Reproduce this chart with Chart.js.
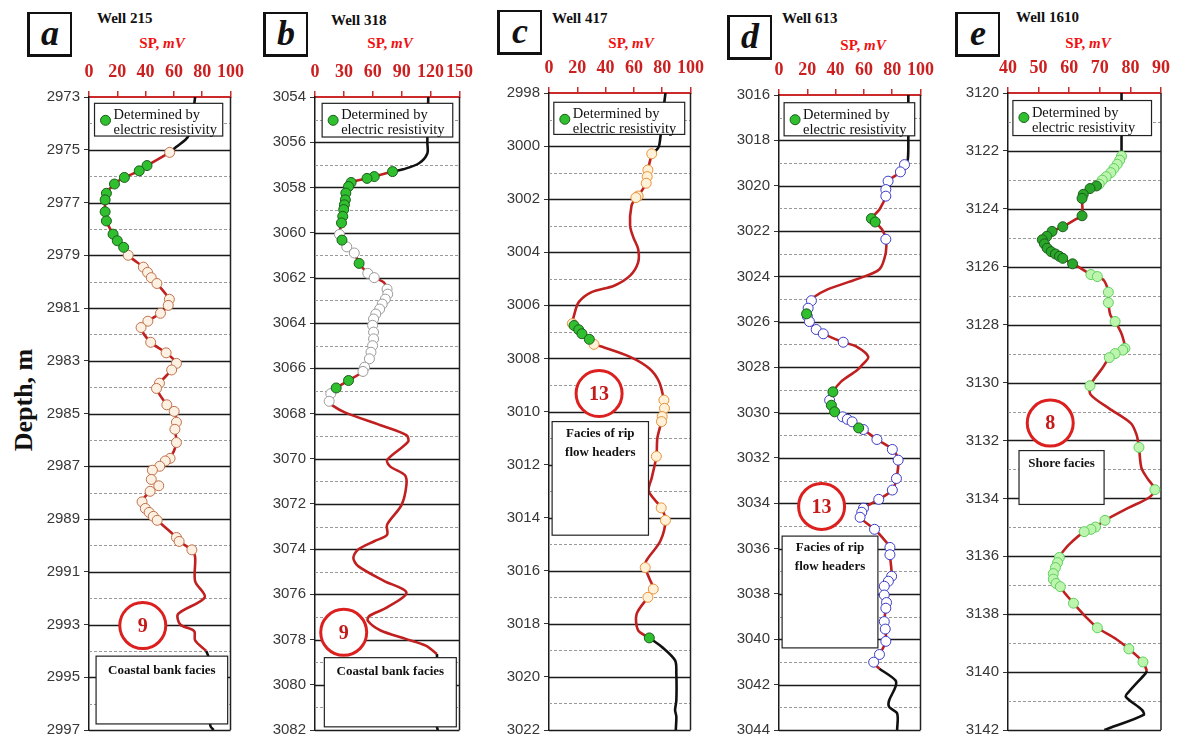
<!DOCTYPE html>
<html>
<head>
<meta charset="utf-8">
<script src="https://cdn.jsdelivr.net/npm/chart.js@4.4.1/dist/chart.umd.min.js"></script>
<style>
  body { margin: 0; background: #fff; width: 1179px; height: 742px; position: relative; overflow: hidden; font-family: "Liberation Serif", "Times New Roman", serif; }
  canvas { position: absolute; }
  .letter { position: absolute; width: 40px; height: 40px; border: 2px solid #111; border-left-width: 3px; border-bottom-width: 3px; font: italic bold 36px "Liberation Serif", serif; text-align: center; line-height: 38px; color: #111; }
  .well { position: absolute; font: bold 15px "Liberation Serif", serif; line-height: 18px; color: #111; white-space: nowrap; }
  .sp { position: absolute; font: bold 15px "Liberation Serif", serif; line-height: 18px; color: #f01010; transform: translateX(-50%); white-space: nowrap; }
  .depth { position: absolute; left: 24px; top: 400px; font: bold 26px "Liberation Serif", serif; white-space: nowrap; transform: translate(-50%, -50%) rotate(-90deg); color: #111; }
</style>
</head>
<body>
<div class="depth">Depth, m</div>
<script>
// ---- Well 215 (a) : [depth, SP]
const wellA_top = [[2973, 75], [2973.8, 73], [2974.5, 70], [2974.89, 61.8], [2975.1, 57]];
const wellA_curve = [[2990.45, 75], [2991.36, 75], [2991.97, 81.8], [2992.6, 63], [2993.0, 64.5], [2993.25, 74.3], [2993.6, 75], [2994.0, 82.8]];
const wellA_bottom = [[2994.0, 82.8], [2994.25, 84.5], [2996.83, 85.7], [2997, 88]];
const wellA_green = [[2975.6, 41], [2975.8, 35.5], [2976.05, 25], [2976.3, 18], [2976.65, 12.3], [2976.9, 11.4], [2977.35, 11.4], [2977.7, 12.3], [2978.2, 17], [2978.45, 20], [2978.7, 24.5]];
const wellA_open = [[2975.1, 57], [2979.0, 27.7], [2979.45, 38.4], [2979.65, 41.4], [2979.85, 44], [2980.07, 48], [2980.67, 56.8], [2980.9, 56], [2981.2, 50.5], [2981.5, 41.6], [2981.74, 36.8], [2982.3, 43.6], [2982.7, 54.5], [2983.1, 61.8], [2983.35, 58.4], [2983.85, 49.8], [2984.05, 47.7], [2984.67, 55], [2984.92, 60.2], [2985.33, 61.8], [2985.6, 60.7], [2986.1, 61.8], [2986.7, 57.3], [2986.8, 53.9], [2987.0, 50], [2987.15, 44.8], [2987.5, 44], [2987.74, 49.3], [2987.95, 43.2], [2988.35, 37.5], [2988.6, 39.8], [2988.75, 42.5], [2988.9, 45.5], [2989.05, 48.2], [2989.7, 61.8], [2989.85, 63.7], [2990.17, 72.7]];

// ---- Well 318 (b)
const wellB_top = [[3054, 117.6], [3055, 117], [3056, 116.6], [3056.5, 116.6], [3056.93, 108], [3057.2, 91.5], [3057.3, 80.5]];
const wellB_curve = [[3062.2, 71.5], [3067.64, 18], [3067.96, 31.5], [3068.52, 68.1], [3068.96, 94.9], [3069.25, 96.6], [3070.06, 74.8], [3070.35, 78.2], [3070.72, 93.2], [3071.16, 94.9], [3072.04, 89.9], [3072.92, 74.8], [3073.36, 74.8], [3073.65, 61.5], [3074.02, 44.8], [3074.38, 39.8], [3074.75, 44.8], [3075.4, 71.5], [3075.92, 94.9], [3076.58, 74.8], [3076.95, 56.5], [3077.17, 54.8], [3077.6, 68.1], [3077.98, 94.9], [3078.27, 115], [3078.64, 126.6]];
const wellB_bottom = [[3078.64, 126.6], [3079.5, 127], [3081.86, 126.6], [3082, 127.5]];
const wellB_green = [[3057.3, 80.5], [3057.52, 61.5], [3057.6, 54], [3057.78, 37.5], [3057.96, 34.8], [3058.25, 32], [3058.55, 31.5], [3058.77, 30.5], [3058.98, 29.8], [3059.28, 28.8], [3059.57, 27.5], [3060.33, 28], [3061.36, 45.8], [3066.54, 34.8], [3066.87, 22]];
const wellB_open = [[3060.08, 25.4], [3060.63, 33], [3060.9, 40.8], [3061.8, 54.8], [3061.99, 61.5], [3062.5, 74.8], [3062.72, 75.5], [3062.94, 73], [3063.16, 69.8], [3063.38, 67.1], [3063.6, 63.1], [3063.82, 60.8], [3064.1, 59.8], [3064.4, 60.8], [3064.7, 60.8], [3065.0, 59.8], [3065.29, 58.1], [3065.58, 56.5], [3065.95, 51.5], [3066.14, 49.8], [3067.12, 16.4], [3067.46, 14.7]];

// ---- Well 417 (c)
const wellC_top = [[2998, 82.3], [2999, 80], [3000, 77.8], [3000.2, 75], [3000.29, 72.6]];
const wellC_curve = [[3002.25, 58.3], [3003.0, 57.3], [3003.44, 59.6], [3003.88, 63], [3004.38, 63], [3004.88, 57.3], [3005.26, 46], [3005.5, 30.1], [3005.88, 21], [3006.38, 17.7], [3007.57, 38.1], [3007.94, 57.3], [3008.38, 70.9], [3008.88, 77.8], [3011.0, 76.6], [3012.5, 72.6], [3013.0, 70.5], [3014.88, 78.7], [3015.63, 68.7], [3016.3, 71], [3017.63, 61.9], [3018.25, 63]];
const wellC_bottom = [[3018.53, 70.9], [3018.88, 80], [3019.38, 89.1], [3019.88, 90], [3020.88, 90], [3021.25, 89.1], [3021.5, 90], [3022, 89.6]];
const wellC_green = [[3006.76, 17.7], [3006.92, 21], [3007.07, 23.3], [3007.28, 28.5], [3018.53, 70.9]];
const wellC_open = [[3000.29, 72.6], [3000.9, 69.9], [3001.15, 69.4], [3001.4, 68.7], [3001.88, 63], [3001.94, 61.4], [3006.69, 16.5], [3007.47, 31.8], [3009.57, 81.2], [3009.88, 81.6], [3010.19, 80], [3010.38, 79.5], [3011.69, 75.9], [3013.63, 79.3], [3014.1, 82.3], [3015.88, 68], [3016.69, 73.7], [3017.0, 69.9]];

// ---- Well 613 (d)
const wellD_top = [[3016, 91.4], [3017, 91.4], [3017.83, 91.4], [3018.85, 91], [3019.07, 88.7]];
const wellD_curve = [[3021.05, 71], [3021.95, 73], [3022.95, 75.5], [3023.68, 71], [3024.12, 55.1], [3024.56, 34.7], [3024.92, 24.5], [3027.11, 55.1], [3027.55, 63.1], [3027.92, 58.5], [3028.14, 55.1], [3028.65, 43.7], [3035.53, 73.3], [3041.3, 71]];
const wellD_bottom = [[3041.3, 71], [3041.81, 82.3], [3042.1, 82.3], [3042.7, 77.8], [3042.98, 77.8], [3043.27, 83.5], [3044, 83.5]];
const wellD_green = [[3021.45, 65.3], [3021.6, 68], [3025.65, 19.5], [3029.09, 38.1], [3029.68, 37], [3029.97, 39.3], [3030.68, 56.3]];
const wellD_open = [[3019.07, 88.7], [3019.39, 85.8], [3019.8, 77.1], [3020.17, 75.5], [3020.46, 75.5], [3022.36, 75.5], [3025.07, 22.9], [3025.4, 20.6], [3025.75, 20], [3025.99, 21.5], [3026.34, 26.3], [3026.53, 31.3], [3026.9, 45.4], [3029.46, 35.8], [3030.19, 44.9], [3030.3, 48.3], [3030.41, 51.7], [3030.75, 59.6], [3031.19, 69.2], [3031.63, 80.1], [3032.1, 84.2], [3032.91, 83], [3033.42, 80.1], [3033.83, 70.5], [3034.22, 59.7], [3034.4, 58.5], [3034.62, 57.3], [3035.15, 67.5], [3035.95, 78.4], [3036.27, 78.4], [3037.22, 79.6], [3037.44, 77.3], [3037.66, 74.4], [3038.05, 74.4], [3038.38, 76], [3038.63, 75.5], [3039.22, 74.4], [3039.55, 75.1], [3040.09, 75.5], [3040.67, 71], [3041.01, 66.9]];

// ---- Well 1610 (e)
const wellE_top = [[3120, 77.1], [3121, 77.1], [3122.06, 77.1], [3122.18, 77.1]];
const wellE_curve = [[3124.36, 62.2], [3126.02, 63.3], [3126.48, 71.4], [3127.68, 73.5], [3128.37, 77.3], [3129.51, 70.8], [3130.43, 67.1], [3130.89, 73], [3131.4, 80.1], [3131.8, 82], [3132.95, 83.6], [3133.3, 85.5], [3133.98, 86], [3134.32, 79.5], [3135.59, 60], [3135.93, 57.3], [3137.25, 58.4], [3138.1, 65.5], [3138.85, 75.2], [3139.96, 85.4]];
const wellE_bottom = [[3139.96, 85.4], [3140.05, 84.9], [3140.68, 79.5], [3140.85, 78.5], [3141.31, 83.8], [3141.48, 84.3], [3141.94, 73], [3142, 71.5]];
const wellE_green = [[3123.21, 68.9], [3123.3, 66.8], [3123.5, 64.6], [3123.64, 64.2], [3124.24, 64.2], [3124.62, 57.9], [3124.78, 54.4], [3124.95, 52.7], [3125.07, 51.2], [3125.21, 51.9], [3125.36, 52.8], [3125.48, 54.1], [3125.56, 55.5], [3125.64, 56.8], [3125.71, 57.9], [3125.9, 61.1]];
const wellE_open = [[3122.18, 77.1], [3122.32, 76.5], [3122.46, 75.7], [3122.61, 74.6], [3122.75, 73.6], [3122.89, 72.1], [3123.01, 70.8], [3123.15, 69.8], [3126.27, 67.1], [3126.34, 69.2], [3126.88, 72.8], [3127.24, 72.8], [3127.89, 75], [3128.82, 78.2], [3128.88, 77.5], [3129.0, 75], [3129.14, 73.1], [3130.11, 66.8], [3132.24, 82.8], [3133.7, 88], [3134.76, 71.7], [3134.99, 68.6], [3135.07, 67.1], [3135.15, 64.9], [3136.04, 56.8], [3136.22, 56.2], [3136.39, 55.5], [3136.6, 54.8], [3136.79, 54.8], [3136.94, 55.7], [3137.05, 57.1], [3137.62, 61.4], [3138.47, 69.2], [3139.2, 79.5], [3139.65, 84.1]];

// ---- tick labels
const spTicksA = [0, 20, 40, 60, 80, 100];
const spTicksB = [0, 30, 60, 90, 120, 150];
const spTicksC = [0, 20, 40, 60, 80, 100];
const spTicksD = [0, 20, 40, 60, 80, 100];
const spTicksE = [40, 50, 60, 70, 80, 90];
const depthTicksA = [2973, 2975, 2977, 2979, 2981, 2983, 2985, 2987, 2989, 2991, 2993, 2995, 2997];
const depthTicksB = [3054, 3056, 3058, 3060, 3062, 3064, 3066, 3068, 3070, 3072, 3074, 3076, 3078, 3080, 3082];
const depthTicksC = [2998, 3000, 3002, 3004, 3006, 3008, 3010, 3012, 3014, 3016, 3018, 3020, 3022];
const depthTicksD = [3016, 3018, 3020, 3022, 3024, 3026, 3028, 3030, 3032, 3034, 3036, 3038, 3040, 3042, 3044];
const depthTicksE = [3120, 3122, 3124, 3126, 3128, 3130, 3132, 3134, 3136, 3138, 3140, 3142];

const RED_LINE = '#c02020';
const GREEN_FILL = '#2fbf2f';
const GREEN_EDGE = '#1b5e1b';

// layout of each panel (pixels) and notes (data coords)
const panels = [
    { letter: 'a', well: 'Well 215', letterPos: [27, 12], wellPos: [97, 9], spPos: [162, 34], area: [89, 236, 97, 733],
      spTicks: spTicksA, depthTicks: depthTicksA, top: wellA_top, curve: wellA_curve, bottom: wellA_bottom, green: wellA_green, open: wellA_open,
      openFill: '#fdf1e4', openEdge: '#c0704a', greenFill: GREEN_FILL,
      legend: [3.9, 2973.24, 94.5, 2974.48], circle: [38, 2993.04, '9'], box: [5, 2994.2, 98, 2996.77, ['Coastal bank facies'], 18] },
    { letter: 'b', well: 'Well 318', letterPos: [263, 12], wellPos: [331, 11], spPos: [390, 34], area: [315, 465, 97, 733],
      spTicks: spTicksB, depthTicks: depthTicksB, top: wellB_top, curve: wellB_curve, bottom: wellB_bottom, green: wellB_green, open: wellB_open,
      openFill: '#ffffff', openEdge: '#9a9a9a', greenFill: GREEN_FILL,
      legend: [7.4, 3054.28, 143, 3055.77], circle: [29.8, 3077.68, '9'], box: [9.7, 3078.8, 146.7, 3081.86, ['Coastal bank facies'], 17] },
    { letter: 'c', well: 'Well 417', letterPos: [497, 10], wellPos: [552, 9], spPos: [631, 34], area: [549, 696, 93, 733],
      spTicks: spTicksC, depthTicks: depthTicksC, top: wellC_top, curve: wellC_curve, bottom: wellC_bottom, green: wellC_green, open: wellC_open,
      openFill: '#fff2d8', openEdge: '#e8913a', greenFill: GREEN_FILL,
      legend: [3.4, 2998.35, 95.9, 2999.56], circle: [35.4, 3009.32, '13'], box: [2.2, 3010.38, 70.3, 3014.66, ['Facies of rip', 'flow headers'], 15] },
    { letter: 'd', well: 'Well 613', letterPos: [727, 15], wellPos: [782, 9], spPos: [863, 36], area: [779, 926, 95, 733],
      spTicks: spTicksD, depthTicks: depthTicksD, top: wellD_top, curve: wellD_curve, bottom: wellD_bottom, green: wellD_green, open: wellD_open,
      openFill: '#ffffff', openEdge: '#3b3bc8', greenFill: GREEN_FILL,
      legend: [3.6, 3016.34, 95.9, 3017.8], circle: [30.1, 3034.14, '13'], box: [2.2, 3035.45, 69.9, 3040.38, ['Facies of rip', 'flow headers'], 15] },
    { letter: 'e', well: 'Well 1610', letterPos: [955, 12], wellPos: [1016, 8], spPos: [1088, 34], area: [1008, 1162, 93, 733],
      spTicks: spTicksE, depthTicks: depthTicksE, top: wellE_top, curve: wellE_curve, bottom: wellE_bottom, green: wellE_green, open: wellE_open,
      openFill: '#bdf5ae', openEdge: '#5fcf5f', greenFill: '#2aa62a',
      legend: [41.6, 3120.26, 86.9, 3121.47], circle: [53.8, 3131.4, '8'], box: [43.6, 3132.35, 71.4, 3134.21, ['Shore facies'], 16] }
];

const toXY = arr => arr.map(p => ({ x: p[1], y: p[0] }));

// dashed / solid depth grid and right border
const gridPlugin = {
    id: 'wellGrid',
    beforeDatasetsDraw(chart) {
        const { ctx, chartArea: ca, scales } = chart;
        const y = scales.y;
        ctx.save();
        for (let d = y.min + 1; d <= y.max; d++) {
            const py = Math.round(y.getPixelForValue(d)) + 0.5;
            const major = (d - y.min) % 2 === 0;
            ctx.beginPath();
            ctx.setLineDash(major ? [] : [3, 2]);
            ctx.strokeStyle = major ? '#1a1a1a' : '#9a9a9a';
            ctx.lineWidth = major ? 1.4 : 1;
            ctx.moveTo(ca.left, py);
            ctx.lineTo(ca.right, py);
            ctx.stroke();
        }
        ctx.setLineDash([]);
        ctx.strokeStyle = '#222';
        ctx.lineWidth = 1.5;
        ctx.beginPath();
        ctx.moveTo(ca.right, ca.top);
        ctx.lineTo(ca.right, ca.bottom);
        ctx.stroke();
        ctx.restore();
    }
};

function notesPlugin(p) {
    return {
        id: 'wellNotes',
        afterDatasetsDraw(chart) {
            const { ctx, scales } = chart;
            const X = v => scales.x.getPixelForValue(v);
            const Y = d => scales.y.getPixelForValue(d);
            ctx.save();
            // legend box
            const l = p.legend;
            const lx = X(l[0]), ly = Y(l[1]), lw = X(l[2]) - lx, lh = Y(l[3]) - ly;
            ctx.fillStyle = '#fff';
            ctx.fillRect(lx, ly, lw, lh);
            ctx.strokeStyle = '#222';
            ctx.lineWidth = 1.2;
            ctx.strokeRect(lx, ly, lw, lh);
            ctx.beginPath();
            ctx.arc(lx + 11, ly + 17, 5, 0, Math.PI * 2);
            ctx.fillStyle = GREEN_FILL;
            ctx.fill();
            ctx.strokeStyle = GREEN_EDGE;
            ctx.lineWidth = 1;
            ctx.stroke();
            ctx.fillStyle = '#111';
            ctx.font = '14.5px "Liberation Serif"';
            ctx.textAlign = 'left';
            ctx.textBaseline = 'alphabetic';
            ctx.fillText('Determined by', lx + 19, ly + 16);
            ctx.fillText('electric resistivity', lx + 19, ly + 31);
            // facies box
            const b = p.box;
            const bx = X(b[0]), by = Y(b[1]), bw = X(b[2]) - bx, bh = Y(b[3]) - by;
            ctx.fillStyle = '#fff';
            ctx.fillRect(bx, by, bw, bh);
            ctx.strokeStyle = '#222';
            ctx.lineWidth = 1.2;
            ctx.strokeRect(bx, by, bw, bh);
            ctx.fillStyle = '#111';
            ctx.font = 'bold 13px "Liberation Serif"';
            ctx.textAlign = 'center';
            b[4].forEach((t, i) => ctx.fillText(t, bx + bw / 2, by + b[5] + i * 19));
            // circled facies number
            const c = p.circle;
            ctx.beginPath();
            ctx.arc(X(c[0]), Y(c[1]), 23, 0, Math.PI * 2);
            ctx.fillStyle = '#fff';
            ctx.fill();
            ctx.strokeStyle = '#dc2020';
            ctx.lineWidth = 3;
            ctx.stroke();
            ctx.fillStyle = '#c41a1a';
            ctx.font = 'bold 20px "Liberation Serif"';
            ctx.textBaseline = 'middle';
            ctx.fillText(c[2], X(c[0]), Y(c[1]) + 1);
            ctx.restore();
        }
    };
}

function addHeader(p) {
    const box = document.createElement('div');
    box.className = 'letter';
    box.style.left = p.letterPos[0] + 'px';
    box.style.top = p.letterPos[1] + 'px';
    box.textContent = p.letter;
    document.body.appendChild(box);
    const w = document.createElement('div');
    w.className = 'well';
    w.style.left = p.wellPos[0] + 'px';
    w.style.top = p.wellPos[1] + 'px';
    w.textContent = p.well;
    document.body.appendChild(w);
    const sp = document.createElement('div');
    sp.className = 'sp';
    sp.style.left = p.spPos[0] + 'px';
    sp.style.top = p.spPos[1] + 'px';
    sp.innerHTML = 'SP, <i>mV</i>';
    document.body.appendChild(sp);
}

function makeChart(p) {
    const [x0, x1, y0, y1] = p.area;
    const left = x0 - 60, top = 55;
    const cv = document.createElement('canvas');
    cv.width = x1 + 16 - left;
    cv.height = y1 + 10 - top;
    cv.style.left = left + 'px';
    cv.style.top = top + 'px';
    document.body.appendChild(cv);

    const redPts = [...p.curve, ...p.green, ...p.open].sort((a, b) => a[0] - b[0]);
    const marker = (data, fill, edge) => ({
        data: toXY(data), showLine: false, pointRadius: 5, pointHoverRadius: 5,
        pointBackgroundColor: fill, pointBorderColor: edge, pointBorderWidth: 1
    });
    const line = (data, color) => ({
        data: toXY(data), showLine: true, pointRadius: 0, borderColor: color, borderWidth: 2.6, tension: 0.3
    });

    new Chart(cv, {
        type: 'scatter',
        data: {
            datasets: [
                marker(p.green, p.greenFill, GREEN_EDGE),
                marker(p.open, p.openFill, p.openEdge),
                line(redPts, RED_LINE),
                line(p.top, '#111'),
                line(p.bottom, '#111')
            ]
        },
        options: {
            responsive: false,
            animation: false,
            devicePixelRatio: 1,
            layout: { padding: { left: 0, right: 16, top: 0, bottom: 10 } },
            plugins: { legend: { display: false }, tooltip: { enabled: false } },
            scales: {
                x: {
                    type: 'linear', position: 'top',
                    min: p.spTicks[0], max: p.spTicks[p.spTicks.length - 1],
                    afterBuildTicks: s => { s.ticks = p.spTicks.map(v => ({ value: v })); },
                    afterFit: s => { s.height = y0 - top; },
                    ticks: { autoSkip: false, maxRotation: 0, padding: 8, color: '#cc2020',
                             font: { family: 'Liberation Serif', size: 18, weight: 'bold' }, callback: v => String(v) },
                    grid: { drawOnChartArea: false, color: '#cc2a2a', tickLength: 6, lineWidth: 1.5 },
                    border: { color: '#cc2a2a', width: 2 }
                },
                y: {
                    type: 'linear', reverse: true,
                    min: p.depthTicks[0], max: p.depthTicks[p.depthTicks.length - 1],
                    afterBuildTicks: s => { s.ticks = p.depthTicks.map(v => ({ value: v })); },
                    afterFit: s => { s.width = x0 - left; },
                    ticks: { padding: 4, color: '#383838', font: { family: 'Liberation Sans', size: 15 }, callback: v => String(v) },
                    grid: { drawOnChartArea: false, color: '#333', tickLength: 5 },
                    border: { color: '#1a1a1a', width: 1.5 }
                }
            }
        },
        plugins: [gridPlugin, notesPlugin(p)]
    });
}

panels.forEach(p => { addHeader(p); makeChart(p); });
</script>
</body>
</html>
